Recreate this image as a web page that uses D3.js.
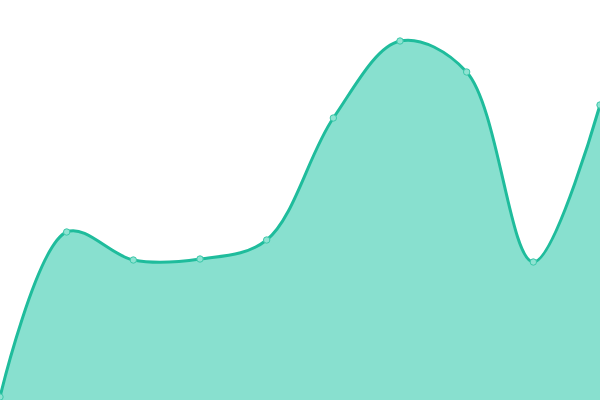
<!DOCTYPE html>
<html>
<head>
<meta charset="utf-8">
<script src="https://cdn.jsdelivr.net/npm/d3@7"></script>
<style>
  html, body { margin: 0; padding: 0; background: #fff; }
  svg { display: block; }
</style>
</head>
<body>
<svg width="600" height="400"></svg>
<script>
// Data
const labels = ['1', '2', '3', '4', '5', '6', '7', '8', '9', '10'];
const values = [3, 168, 140, 141, 160, 282, 359, 328, 138, 295];

const svg = d3.select('svg');
const width = +svg.attr('width');
const height = +svg.attr('height');

const data = labels.map((d, i) => ({ label: d, value: values[i] }));

// Scales
const xScale = d3.scalePoint()
    .domain(labels)
    .range([0, width]);
const yScale = d3.scaleLinear()
    .domain([0, 400])
    .range([height, 0]);

const curve = d3.curveCatmullRom.alpha(0.5);

// Area
const area = d3.area()
    .x(d => xScale(d.label))
    .y0(height)
    .y1(d => yScale(d.value))
    .curve(curve);

svg.append('path')
    .datum(data)
    .attr('d', area)
    .attr('fill', '#88e0cf');

// Line
const line = d3.line()
    .x(d => xScale(d.label))
    .y(d => yScale(d.value))
    .curve(curve);

svg.append('path')
    .datum(data)
    .attr('d', line)
    .attr('fill', 'none')
    .attr('stroke', '#1fbc9c')
    .attr('stroke-width', 3);

// Points
svg.selectAll('circle')
    .data(data)
    .enter()
    .append('circle')
    .attr('cx', d => xScale(d.label))
    .attr('cy', d => yScale(d.value))
    .attr('r', 3.2)
    .attr('fill', '#8fe3d2')
    .attr('stroke', '#3cc8aa')
    .attr('stroke-width', 1);
</script>
</body>
</html>
